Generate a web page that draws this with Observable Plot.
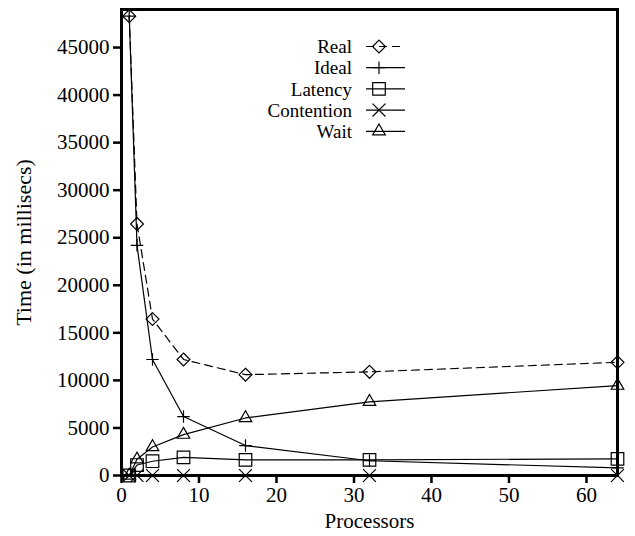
<!DOCTYPE html>
<html>
<head>
<meta charset="utf-8">
<script src="https://cdn.jsdelivr.net/npm/d3@7"></script>
<script src="https://cdn.jsdelivr.net/npm/@observablehq/plot@0.6"></script>
<style>
  body { margin: 0; background: #fff; }
  #chart svg { display: block; }
</style>
</head>
<body>
<div id="chart"></div>
<script>
// Execution time breakdown versus number of processors
const processors = [1, 2, 4, 8, 16, 32, 64];
const seriesNames = ["Real", "Ideal", "Latency", "Contention", "Wait"];
const real       = [48300, 26450, 16450, 12200, 10600, 10900, 11900];
const ideal      = [48300, 24200, 12200, 6200, 3150, 1550, 800];
const latency    = [0, 1100, 1500, 1900, 1650, 1650, 1750];
const contention = [0, 0, 0, 0, 0, 0, 0];
const wait       = [0, 1700, 3000, 4300, 6050, 7750, 9450];
const yTicks = [0, 5000, 10000, 15000, 20000, 25000, 30000, 35000, 40000, 45000];
const xTicks = [0, 10, 20, 30, 40, 50, 60];

const values = [real, ideal, latency, contention, wait];

// Point style per series (d3 symbol, radius, dash pattern)
const styles = {
  Real:       {symbol: "diamond2",  r: 5.8, dash: "8,5"},
  Ideal:      {symbol: "plus",      r: 4.1, dash: null},
  Latency:    {symbol: "square2",   r: 8.0, dash: null},
  Contention: {symbol: "times",     r: 5.9, dash: null},
  Wait:       {symbol: "triangle2", r: 6.0, dash: null}
};

const rows = seriesNames.flatMap((name, s) =>
  processors.map((p, i) => ({series: name, processors: p, time: values[s][i]}))
);

const font = "Liberation Serif, Times New Roman, serif";
const fontSize = 21;
const keyFontSize = 19;

const seriesMarks = seriesNames.flatMap(name => {
  const data = rows.filter(d => d.series === name);
  const st = styles[name];
  return [
    Plot.line(data, {x: "processors", y: "time", stroke: "black", strokeWidth: 1.2,
      strokeDasharray: st.dash ?? undefined}),
    Plot.dot(data, {x: "processors", y: "time", symbol: () => st.symbol, r: st.r,
      stroke: "black", fill: "none", strokeWidth: 1.2})
  ];
});

const chart = Plot.plot({
  width: 635,
  height: 536,
  marginLeft: 121,
  marginRight: 18,
  marginTop: 9,
  marginBottom: 61,
  style: {fontFamily: font, fontSize: fontSize + "px", background: "white", color: "black"},
  x: {domain: [0, 64]},
  y: {domain: [0, 49000]},
  symbol: {type: "identity"},
  marks: [
    Plot.axisY({ticks: yTicks, tickSize: 8, tickPadding: 4, strokeWidth: 2.5,
      tickFormat: d => String(d), fontSize, label: null}),
    Plot.axisY({ticks: [], fontSize: 22,
      label: "Time (in millisecs)", labelAnchor: "center", labelArrow: "none", labelOffset: 106}),
    Plot.axisX({ticks: xTicks, tickSize: 8, tickPadding: 4, strokeWidth: 2.5,
      tickFormat: d => String(d), fontSize,
      label: "Processors", labelAnchor: "center", labelArrow: "none", labelOffset: 52}),
    ...seriesMarks,
    Plot.frame({stroke: "black", strokeWidth: 3})
  ]
});

document.getElementById("chart").append(chart);

// Key in the upper part of the frame
const svg = d3.select(chart);
const key = svg.append("g").attr("font-family", font).attr("font-size", keyFontSize);
const symbolTypes = {
  diamond2: d3.symbolDiamond2, plus: d3.symbolPlus, square2: d3.symbolSquare2,
  times: d3.symbolTimes, triangle2: d3.symbolTriangle2
};
const keyRight = 352, keyLineX0 = 366, keyLineX1 = 405, keyMarkX = 379, keyTop = 46.5, keyStep = 21.2;
seriesNames.forEach((name, i) => {
  const st = styles[name];
  const y = keyTop + i * keyStep;
  key.append("text").attr("x", keyRight).attr("y", y).attr("dy", "0.35em")
    .attr("text-anchor", "end").attr("fill", "black").text(name);
  key.append("line").attr("x1", keyLineX0).attr("x2", keyLineX1).attr("y1", y).attr("y2", y)
    .attr("stroke", "black").attr("stroke-width", 1.2)
    .attr("stroke-dasharray", st.dash);
  key.append("path")
    .attr("transform", `translate(${keyMarkX},${y})`)
    .attr("d", d3.symbol(symbolTypes[st.symbol], st.r * st.r * Math.PI)())
    .attr("fill", "none").attr("stroke", "black").attr("stroke-width", 1.2);
});
</script>
</body>
</html>
